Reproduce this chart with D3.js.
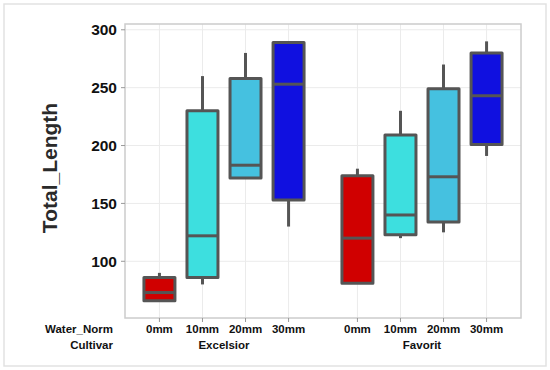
<!DOCTYPE html>
<html><head><meta charset="utf-8">
<script src="https://cdn.jsdelivr.net/npm/d3@7"></script>
<style>body{margin:0;background:#fff}svg{display:block}text{font-family:"Liberation Sans",Arial,sans-serif;font-weight:bold;fill:#111}</style>
</head><body><svg id="c" width="550" height="370"></svg>
<script>
const cultivars = ["Excelsior", "Favorit"];
const waterNorms = ["0mm", "10mm", "20mm", "30mm"];
const colors = ["#d00000", "#3ddfdf", "#45c1e0", "#1010e0"];
const yTicks = [100, 150, 200, 250, 300];
// per cultivar, per water norm: [whiskerLow, q1, median, q3, whiskerHigh]
const excelsior = [[66, 66, 73, 86, 90], [80, 86, 122, 230, 260], [172, 172, 183, 258, 280], [130, 153, 253, 289, 289]];
const favorit = [[81, 81, 120, 174, 180], [120, 123, 140, 209, 230], [125, 134, 173, 249, 270], [191, 201, 243, 280, 290]];
const seriesValues = [excelsior, favorit];

const svg = d3.select("#c");
const L = 125, R = 521, T = 24, B = 318;
svg.append("rect").attr("x", 4).attr("y", 4).attr("width", 542).attr("height", 362)
  .attr("fill", "none").attr("stroke", "#e2e2e2").attr("stroke-width", 1.5);

const y = d3.scaleLinear().domain([51, 305]).range([B, T]);
const xg = d3.scaleBand().domain(cultivars).range([L, R]).padding(0);
const xi = d3.scalePoint().domain(waterNorms).range([0, xg.bandwidth()]).padding(0.8);
const boxW = xi.step() * 0.72;

const g = svg.append("g");
// grid
g.selectAll(".hg").data(yTicks).join("line").attr("x1", L).attr("x2", R)
  .attr("y1", d => y(d)).attr("y2", d => y(d)).attr("stroke", "#ebebeb").attr("stroke-width", 1);
cultivars.forEach(c => waterNorms.forEach(w => {
  const cx = xg(c) + xi(w);
  g.append("line").attr("x1", cx).attr("x2", cx).attr("y1", T).attr("y2", B).attr("stroke", "#ebebeb");
}));

// boxes
cultivars.forEach((c, ci) => waterNorms.forEach((w, wi) => {
  const v = seriesValues[ci][wi];
  const cx = xg(c) + xi(w);
  const s = "#555555", sw = 3;
  g.append("line").attr("x1", cx).attr("x2", cx).attr("y1", y(v[4])).attr("y2", y(v[3])).attr("stroke", s).attr("stroke-width", sw);
  g.append("line").attr("x1", cx).attr("x2", cx).attr("y1", y(v[1])).attr("y2", y(v[0])).attr("stroke", s).attr("stroke-width", sw);
  g.append("rect").attr("x", cx - boxW / 2).attr("width", boxW).attr("y", y(v[3])).attr("height", y(v[1]) - y(v[3]))
    .attr("fill", colors[wi]).attr("stroke", s).attr("stroke-width", sw).attr("stroke-linejoin", "round");
  g.append("line").attr("x1", cx - boxW / 2).attr("x2", cx + boxW / 2).attr("y1", y(v[2])).attr("y2", y(v[2])).attr("stroke", s).attr("stroke-width", sw);
}));

// panel border
svg.append("rect").attr("x", L).attr("y", T).attr("width", R - L).attr("height", B - T)
  .attr("fill", "none").attr("stroke", "#cccccc").attr("stroke-width", 1.5);

// y axis
yTicks.forEach(t => {
  svg.append("line").attr("x1", L - 4).attr("x2", L).attr("y1", y(t)).attr("y2", y(t)).attr("stroke", "#999");
  svg.append("text").attr("x", 117).attr("y", y(t)).attr("dy", "0.36em").attr("text-anchor", "end")
    .style("font-size", "15.5px").text(t);
});
svg.append("text").attr("transform", `translate(57,${(T + B) / 2 - 3}) rotate(-90)`).attr("text-anchor", "middle")
  .style("font-size", "21px").style("fill", "#2a2a2a").text("Total_Length");

// x axis
cultivars.forEach(c => {
  waterNorms.forEach(w => {
    const cx = xg(c) + xi(w);
    svg.append("line").attr("x1", cx).attr("x2", cx).attr("y1", B).attr("y2", B + 4).attr("stroke", "#999");
    svg.append("text").attr("x", cx).attr("y", 333).attr("text-anchor", "middle").style("font-size", "11.5px").text(w);
  });
  svg.append("text").attr("x", xg(c) + xg.bandwidth() / 2).attr("y", 349).attr("text-anchor", "middle").style("font-size", "11.5px").text(c);
});
svg.append("text").attr("x", 113).attr("y", 333).attr("text-anchor", "end").style("font-size", "11.5px").text("Water_Norm");
svg.append("text").attr("x", 113).attr("y", 349).attr("text-anchor", "end").style("font-size", "11.5px").text("Cultivar");
</script></body></html>
